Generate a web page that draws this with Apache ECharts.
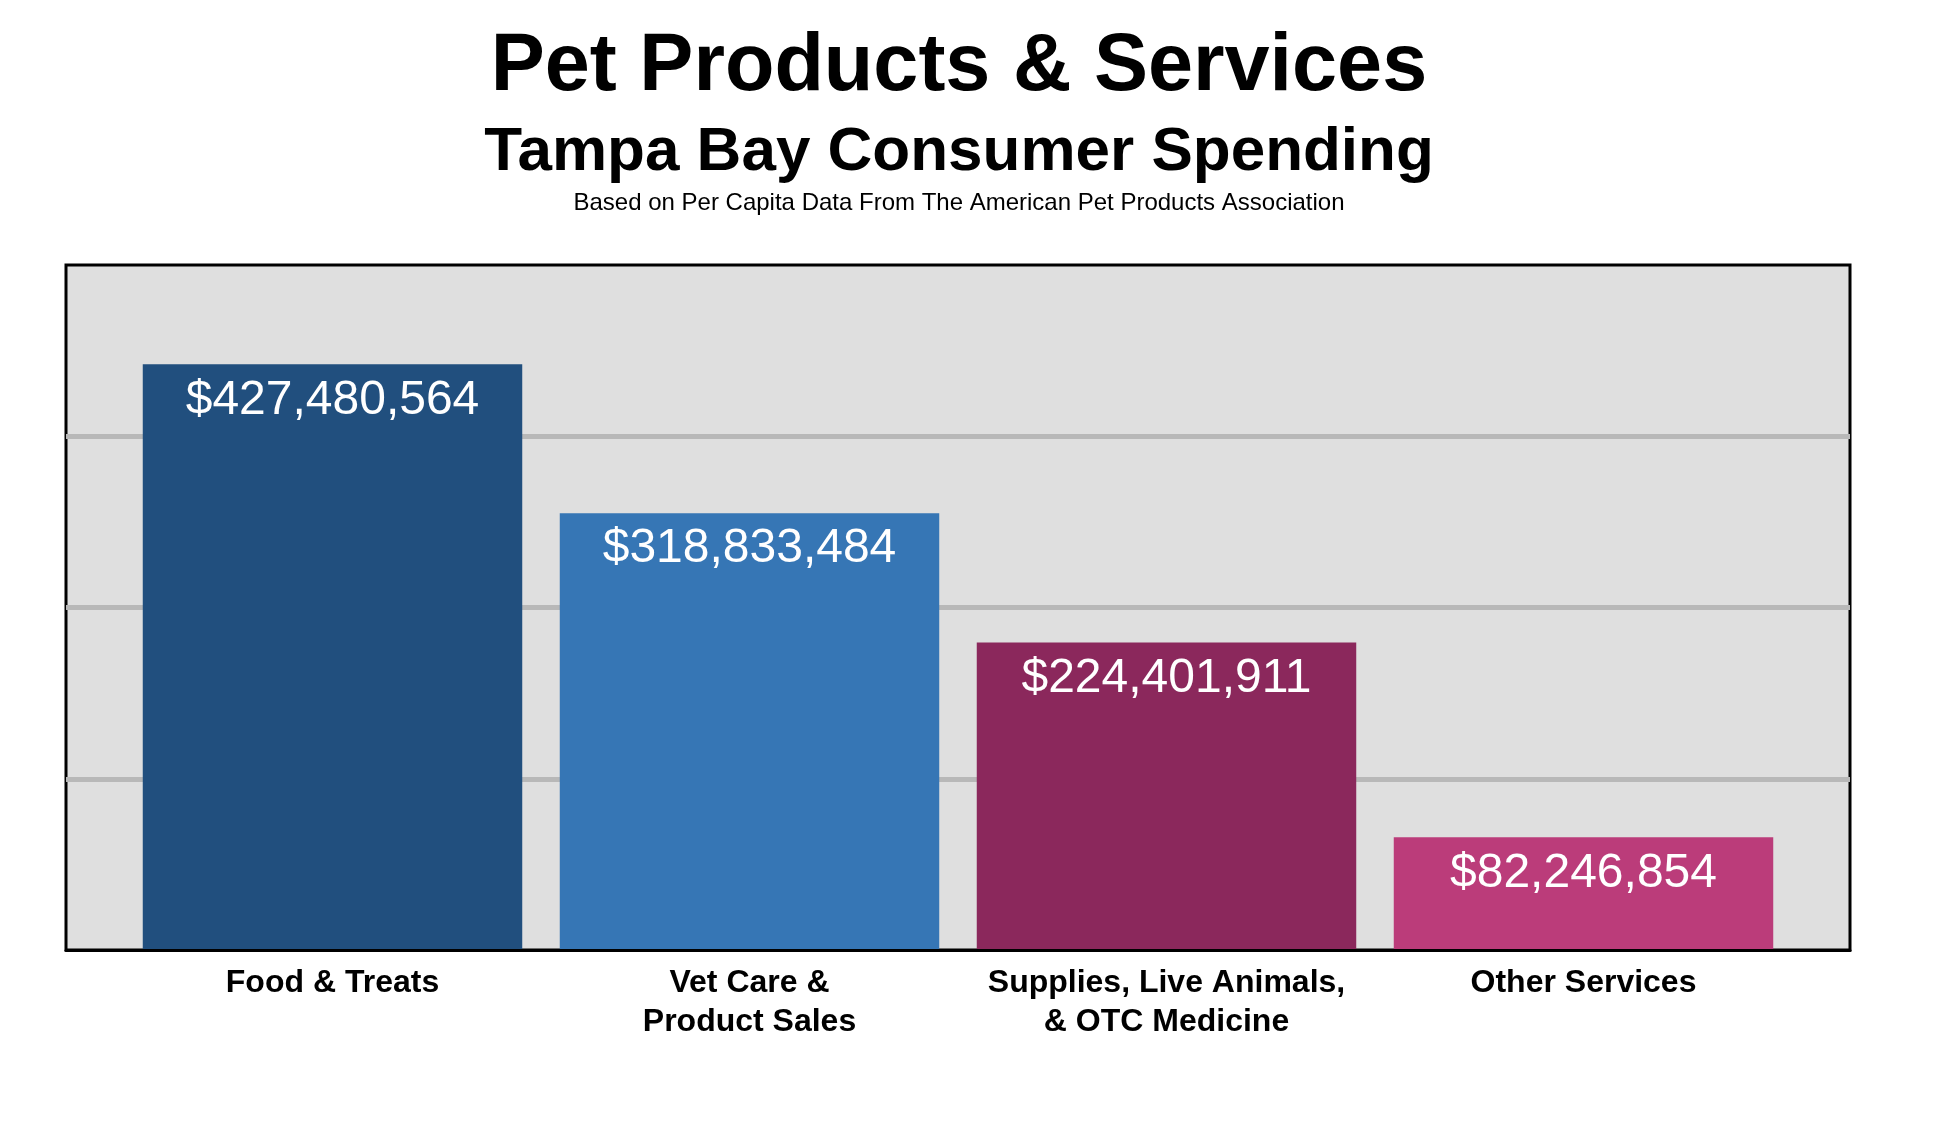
<!DOCTYPE html>
<html>
<head>
<meta charset="utf-8">
<script src="https://cdn.jsdelivr.net/npm/echarts@6/dist/echarts.min.js"></script>
<style>
html,body{margin:0;padding:0;background:#fff;}
#chart{width:1938px;height:1130px;}
</style>
</head>
<body>
<div id="chart"></div>
<script>
const categories = ["Food & Treats", "Vet Care &\nProduct Sales", "Supplies, Live Animals,\n& OTC Medicine", "Other Services"];
const values = [427480564, 318833484, 224401911, 82246854];
const barColors = ["#214f7e", "#3676b5", "#8b285c", "#bb3c7a"];
const yMin = 0, yMax = 500000000, yInterval = 125000000;

const FONT = '"Liberation Sans", Arial, Helvetica, sans-serif';
const chart = echarts.init(document.getElementById('chart'));

function money(v){ return '$' + v.toLocaleString('en-US'); }

const TITLE_X = 954;
chart.setOption({
  backgroundColor: '#ffffff',
  animation: false,
  title: [
    {text: 'Pet Products & Services', left: TITLE_X, textAlign: 'center', top: 22,
     textStyle: {fontFamily: FONT, fontSize: 81, fontWeight: 'bold', color: '#000'}},
    {text: 'Tampa Bay Consumer Spending', left: TITLE_X, textAlign: 'center', top: 117,
     textStyle: {fontFamily: FONT, fontSize: 62, fontWeight: 'bold', color: '#000'}},
    {text: 'Based on Per Capita Data From The American Pet Products Association', left: TITLE_X, textAlign: 'center', top: 186,
     textStyle: {fontFamily: FONT, fontSize: 24, fontWeight: 'normal', color: '#000'}}
  ],
  grid: [
    {left: 66, right: 88, top: 265, bottom: 180, show: true, backgroundColor: '#dfdfdf',
     borderColor: '#000', borderWidth: 3, containLabel: false},
    {left: 124, right: 146, top: 265, bottom: 180, containLabel: false}
  ],
  xAxis: [
    {gridIndex: 0, type: 'category', data: categories, show: true,
     axisLine: {show: true, lineStyle: {color: '#000', width: 3}}, z: 10,
     axisTick: {show: false}, axisLabel: {show: false}, splitLine: {show: false}},
    {gridIndex: 1, type: 'category', data: categories,
     axisLine: {show: false}, axisTick: {show: false}, splitLine: {show: false},
     axisLabel: {fontFamily: FONT, fontSize: 32, fontWeight: 'bold', color: '#000',
                 lineHeight: 39, margin: 14, interval: 0}}
  ],
  yAxis: [
    {gridIndex: 0, type: 'value', min: yMin, max: yMax, interval: yInterval,
     axisLine: {show: false}, axisTick: {show: false}, axisLabel: {show: false},
     splitLine: {show: true, showMinLine: false, showMaxLine: false, lineStyle: {color: '#b8b8b8', width: 5}}},
    {gridIndex: 1, type: 'value', min: yMin, max: yMax, interval: yInterval,
     axisLine: {show: false}, axisTick: {show: false}, axisLabel: {show: false},
     splitLine: {show: false}}
  ],
  series: [{
    type: 'bar',
    xAxisIndex: 1, yAxisIndex: 1,
    barCategoryGap: '9%',
    data: values.map((v, i) => ({value: v, itemStyle: {color: barColors[i]}})),
    label: {
      show: true, position: 'insideTop', distance: 12,
      formatter: p => money(p.value),
      fontFamily: FONT, fontSize: 48, color: '#fff'
    }
  }]
});
</script>
</body>
</html>
